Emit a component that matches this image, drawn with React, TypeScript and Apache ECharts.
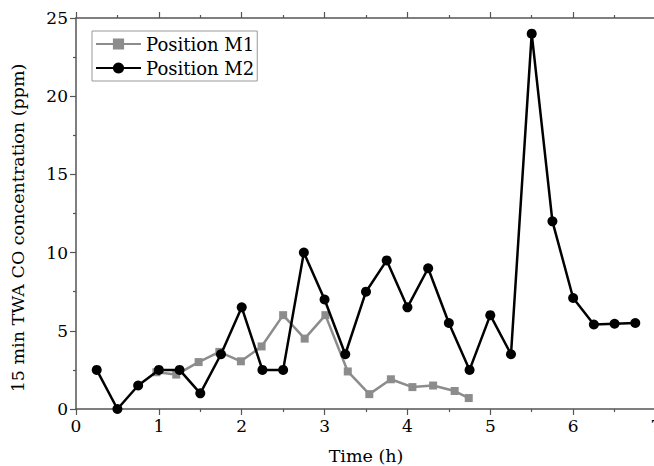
import React, { useEffect, useRef } from "react";
import * as echarts from "echarts";

const m1Time = [0.97, 1.21, 1.48, 1.73, 1.99, 2.24, 2.5, 2.76, 3.01, 3.28, 3.54, 3.8, 4.06, 4.31, 4.57, 4.74];
const m1Value = [2.35, 2.2, 3.0, 3.65, 3.05, 4.0, 6.0, 4.5, 6.0, 2.4, 0.95, 1.9, 1.4, 1.5, 1.15, 0.7];

const m2Time = [0.25, 0.5, 0.75, 1.0, 1.25, 1.5, 1.75, 2.0, 2.25, 2.5, 2.75, 3.0, 3.25, 3.5, 3.75, 4.0, 4.25, 4.5, 4.75, 5.0, 5.25, 5.5, 5.75, 6.0, 6.25, 6.5, 6.75];
const m2Value = [2.5, 0, 1.5, 2.5, 2.5, 1.0, 3.5, 6.5, 2.5, 2.5, 10, 7, 3.5, 7.5, 9.5, 6.5, 9, 5.5, 2.5, 6, 3.5, 24, 12, 7.1, 5.4, 5.45, 5.5];

const seriesNames = ["Position M1", "Position M2"];
const xTitle = "Time (h)";
const yTitle = "15 min TWA CO concentration (ppm)";

const FONT = "DejaVu Serif";
const AXIS_COLOR = "#555";
const GREY = "#8c8c8c";

export default function App() {
  const ref = useRef<HTMLDivElement>(null);
  useEffect(() => {
    if (!ref.current) return;
    const chart = echarts.init(ref.current, undefined, { renderer: "svg" });
    const axisCommon = {
      axisLine: { show: true, onZero: false, lineStyle: { color: AXIS_COLOR, width: 1.5 } },
      axisTick: { show: true, inside: false, length: 6, lineStyle: { color: AXIS_COLOR, width: 1.2 } },
      minorTick: { show: true, splitNumber: 2, length: 3, lineStyle: { color: AXIS_COLOR, width: 1.2 } },
      splitLine: { show: false },
      minorSplitLine: { show: false },
    };
    chart.setOption({
      animation: false,
      backgroundColor: "#fff",
      textStyle: { fontFamily: FONT },
      grid: {
        left: 76,
        top: 18,
        width: 580,
        height: 391,
        containLabel: false,
        outerBoundsMode: "none",
      },
      legend: {
        orient: "vertical",
        left: 92,
        top: 31,
        itemWidth: 45,
        itemHeight: 14,
        itemGap: 6,
        padding: [4, 3, 4, 3],
        borderColor: "#999",
        borderWidth: 1,
        textStyle: { fontFamily: FONT, fontSize: 18, color: "#000" },
        data: seriesNames,
      },
      xAxis: [
        {
          type: "value",
          min: 0,
          max: 7,
          interval: 1,
          name: xTitle,
          nameLocation: "middle",
          nameGap: 38,
          nameTextStyle: { fontFamily: FONT, fontSize: 17.5, color: "#000" },
          axisLabel: { fontFamily: FONT, fontSize: 17, color: "#000", margin: 8 },
          ...axisCommon,
        },
        {
          type: "value",
          position: "top",
          min: 0,
          max: 7,
          interval: 1,
          axisLabel: { show: false },
          ...axisCommon,
        },
      ],
      yAxis: {
        type: "value",
        min: 0,
        max: 25,
        interval: 5,
        axisLabel: { fontFamily: FONT, fontSize: 17, color: "#000", margin: 8 },
        ...axisCommon,
      },
      graphic: [
        {
          type: "text",
          x: 18,
          y: 228,
          rotation: Math.PI / 2,
          style: {
            text: yTitle,
            fontFamily: FONT,
            fontSize: 17.5,
            fill: "#000",
            align: "center",
            verticalAlign: "middle",
          },
        },
      ],
      series: [
        {
          name: seriesNames[0],
          type: "line",
          data: m1Time.map((t, i) => [t, m1Value[i]]),
          symbol: "rect",
          symbolSize: 8,
          clip: false,
          lineStyle: { color: GREY, width: 2.5 },
          itemStyle: { color: GREY },
          z: 2,
        },
        {
          name: seriesNames[1],
          type: "line",
          data: m2Time.map((t, i) => [t, m2Value[i]]),
          symbol: "circle",
          symbolSize: 10,
          clip: false,
          lineStyle: { color: "#000", width: 2.5 },
          itemStyle: { color: "#000" },
          z: 3,
        },
      ],
    });
    return () => chart.dispose();
  }, []);
  return (
    <div
      ref={ref}
      style={{ position: "fixed", left: 0, top: 0, width: 654, height: 466 }}
    />
  );
}
